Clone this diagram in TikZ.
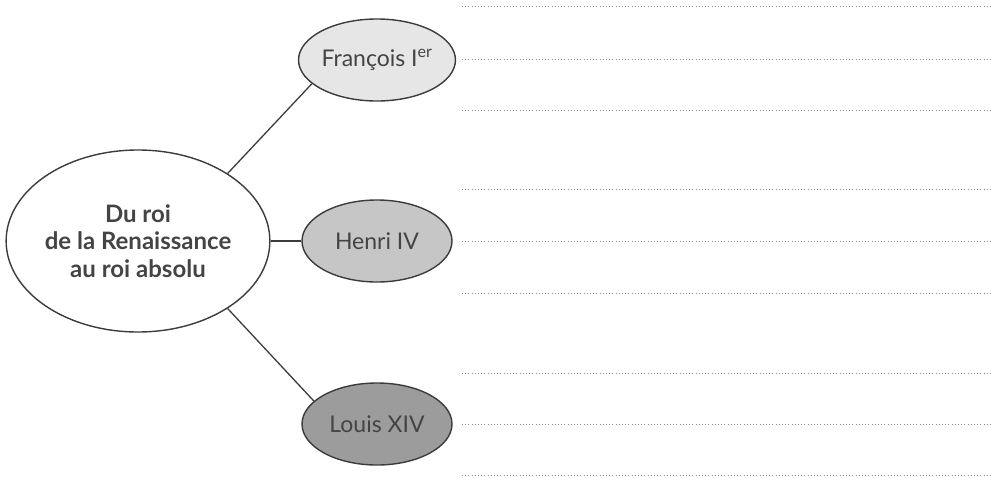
\documentclass[tikz,border=0pt]{standalone}
\usepackage{fontspec}
\setmainfont{Lato}
\usetikzlibrary{shapes.geometric}
\definecolor{edgec}{HTML}{3C3C3C}
\definecolor{txtc}{HTML}{444444}
\definecolor{fillA}{HTML}{E6E6E6}
\definecolor{fillB}{HTML}{C6C6C6}
\definecolor{fillC}{HTML}{9C9C9C}
\definecolor{dotc}{HTML}{8A8A8A}
\tikzset{
  mainell/.style={ellipse, draw=edgec, line width=1.4pt, fill=white, inner sep=0pt,
    minimum width=262pt, minimum height=182pt, align=center, text=txtc,
    font=\fontsize{24}{27.5}\selectfont\bfseries},
  kingell/.style={ellipse, draw=edgec, line width=1.4pt, inner sep=0pt,
    minimum width=150pt, minimum height=82pt, text=txtc,
    font=\fontsize{23}{26}\selectfont},
  link/.style={draw=edgec, line width=1.3pt},
  writeline/.style={draw=dotc, line width=1pt, dash pattern=on 1pt off 2.2pt}
}
\begin{document}
\begin{tikzpicture}[x=1pt,y=-1pt]
\useasboundingbox (0,0) rectangle (991,477);
\foreach \yy in {6,59,110,189,241,293,373,424,475}{
  \draw[writeline] (462,\yy) -- (991,\yy);
}
\node[mainell] (main) at (138,241) {Du roi\\de la Renaissance\\au roi absolu};
\node[kingell, fill=fillA] (fr) at (377,60) {François I\textsuperscript{er}};
\node[kingell, fill=fillB] (he) at (377,241) {Henri IV};
\node[kingell, fill=fillC] (lo) at (377,424) {Louis XIV};
\draw[link] (main.37) -- (fr.200);
\draw[link] (main.east) -- (he.west);
\draw[link] (main.-37) -- (lo.160);
\end{tikzpicture}
\end{document}
